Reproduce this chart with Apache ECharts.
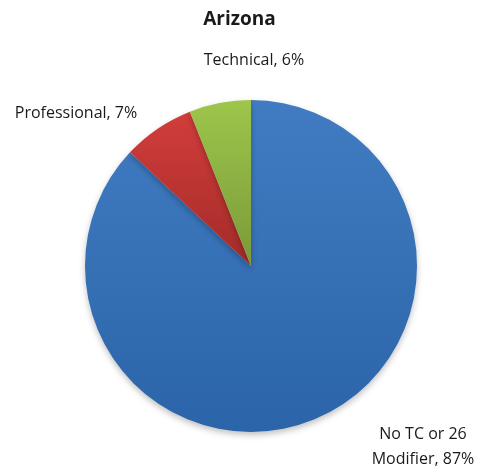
<!DOCTYPE html>
<html>
<head>
<meta charset="utf-8">
<script src="https://cdn.jsdelivr.net/npm/echarts@6/dist/echarts.min.js"></script>
<style>
  html, body { margin: 0; padding: 0; background: #fff; }
  #main { width: 479px; height: 468px; }
</style>
</head>
<body>
<div id="main"></div>
<script>
  var categories = ['No TC or 26\nModifier', 'Professional', 'Technical']
  var shares = [87, 7, 6]
  // top / bottom shade of each slice
  var topColors = ['#417cc2', '#d23d3b', '#9dc64b']
  var bottomColors = ['#2b64a8', '#a32b29', '#7a9a39']
  // where each label sits (text only)
  var labelSpots = [[423, 447], [76, 113], [254, 60]]

  var chart = echarts.init(document.getElementById('main'))

  var data = categories.map(function (name, i) {
    return {
      name: name,
      value: shares[i],
      itemStyle: {
        color: new echarts.graphic.LinearGradient(0, 0, 0, 1, [
          { offset: 0, color: topColors[i] },
          { offset: 1, color: bottomColors[i] }
        ])
      }
    }
  })

  var option = {
    animation: false,
    title: {
      text: 'Arizona',
      left: 'center',
      top: 5,
      textStyle: {
        fontFamily: 'Open Sans',
        fontSize: 19,
        fontWeight: 'bold',
        color: '#1a1a1a'
      }
    },
    series: [{
      type: 'pie',
      center: [251, 266],
      radius: 166,
      startAngle: 90,
      clockwise: true,
      data: data,
      itemStyle: {
        shadowBlur: 6,
        shadowOffsetY: 3,
        shadowColor: 'rgba(0, 0, 0, 0.25)'
      },
      label: {
        show: true,
        position: 'outside',
        formatter: '{b}, {c}%',
        fontFamily: 'Open Sans',
        fontSize: 16,
        lineHeight: 25,
        color: '#1a1a1a',
        align: 'center',
        overflow: 'none'
      },
      labelLine: { show: false },
      labelLayout: function (params) {
        var p = labelSpots[params.dataIndex]
        return { x: p[0], y: p[1], align: 'center', verticalAlign: 'middle' }
      },
      emphasis: { disabled: true }
    }]
  }

  chart.setOption(option)
</script>
</body>
</html>
